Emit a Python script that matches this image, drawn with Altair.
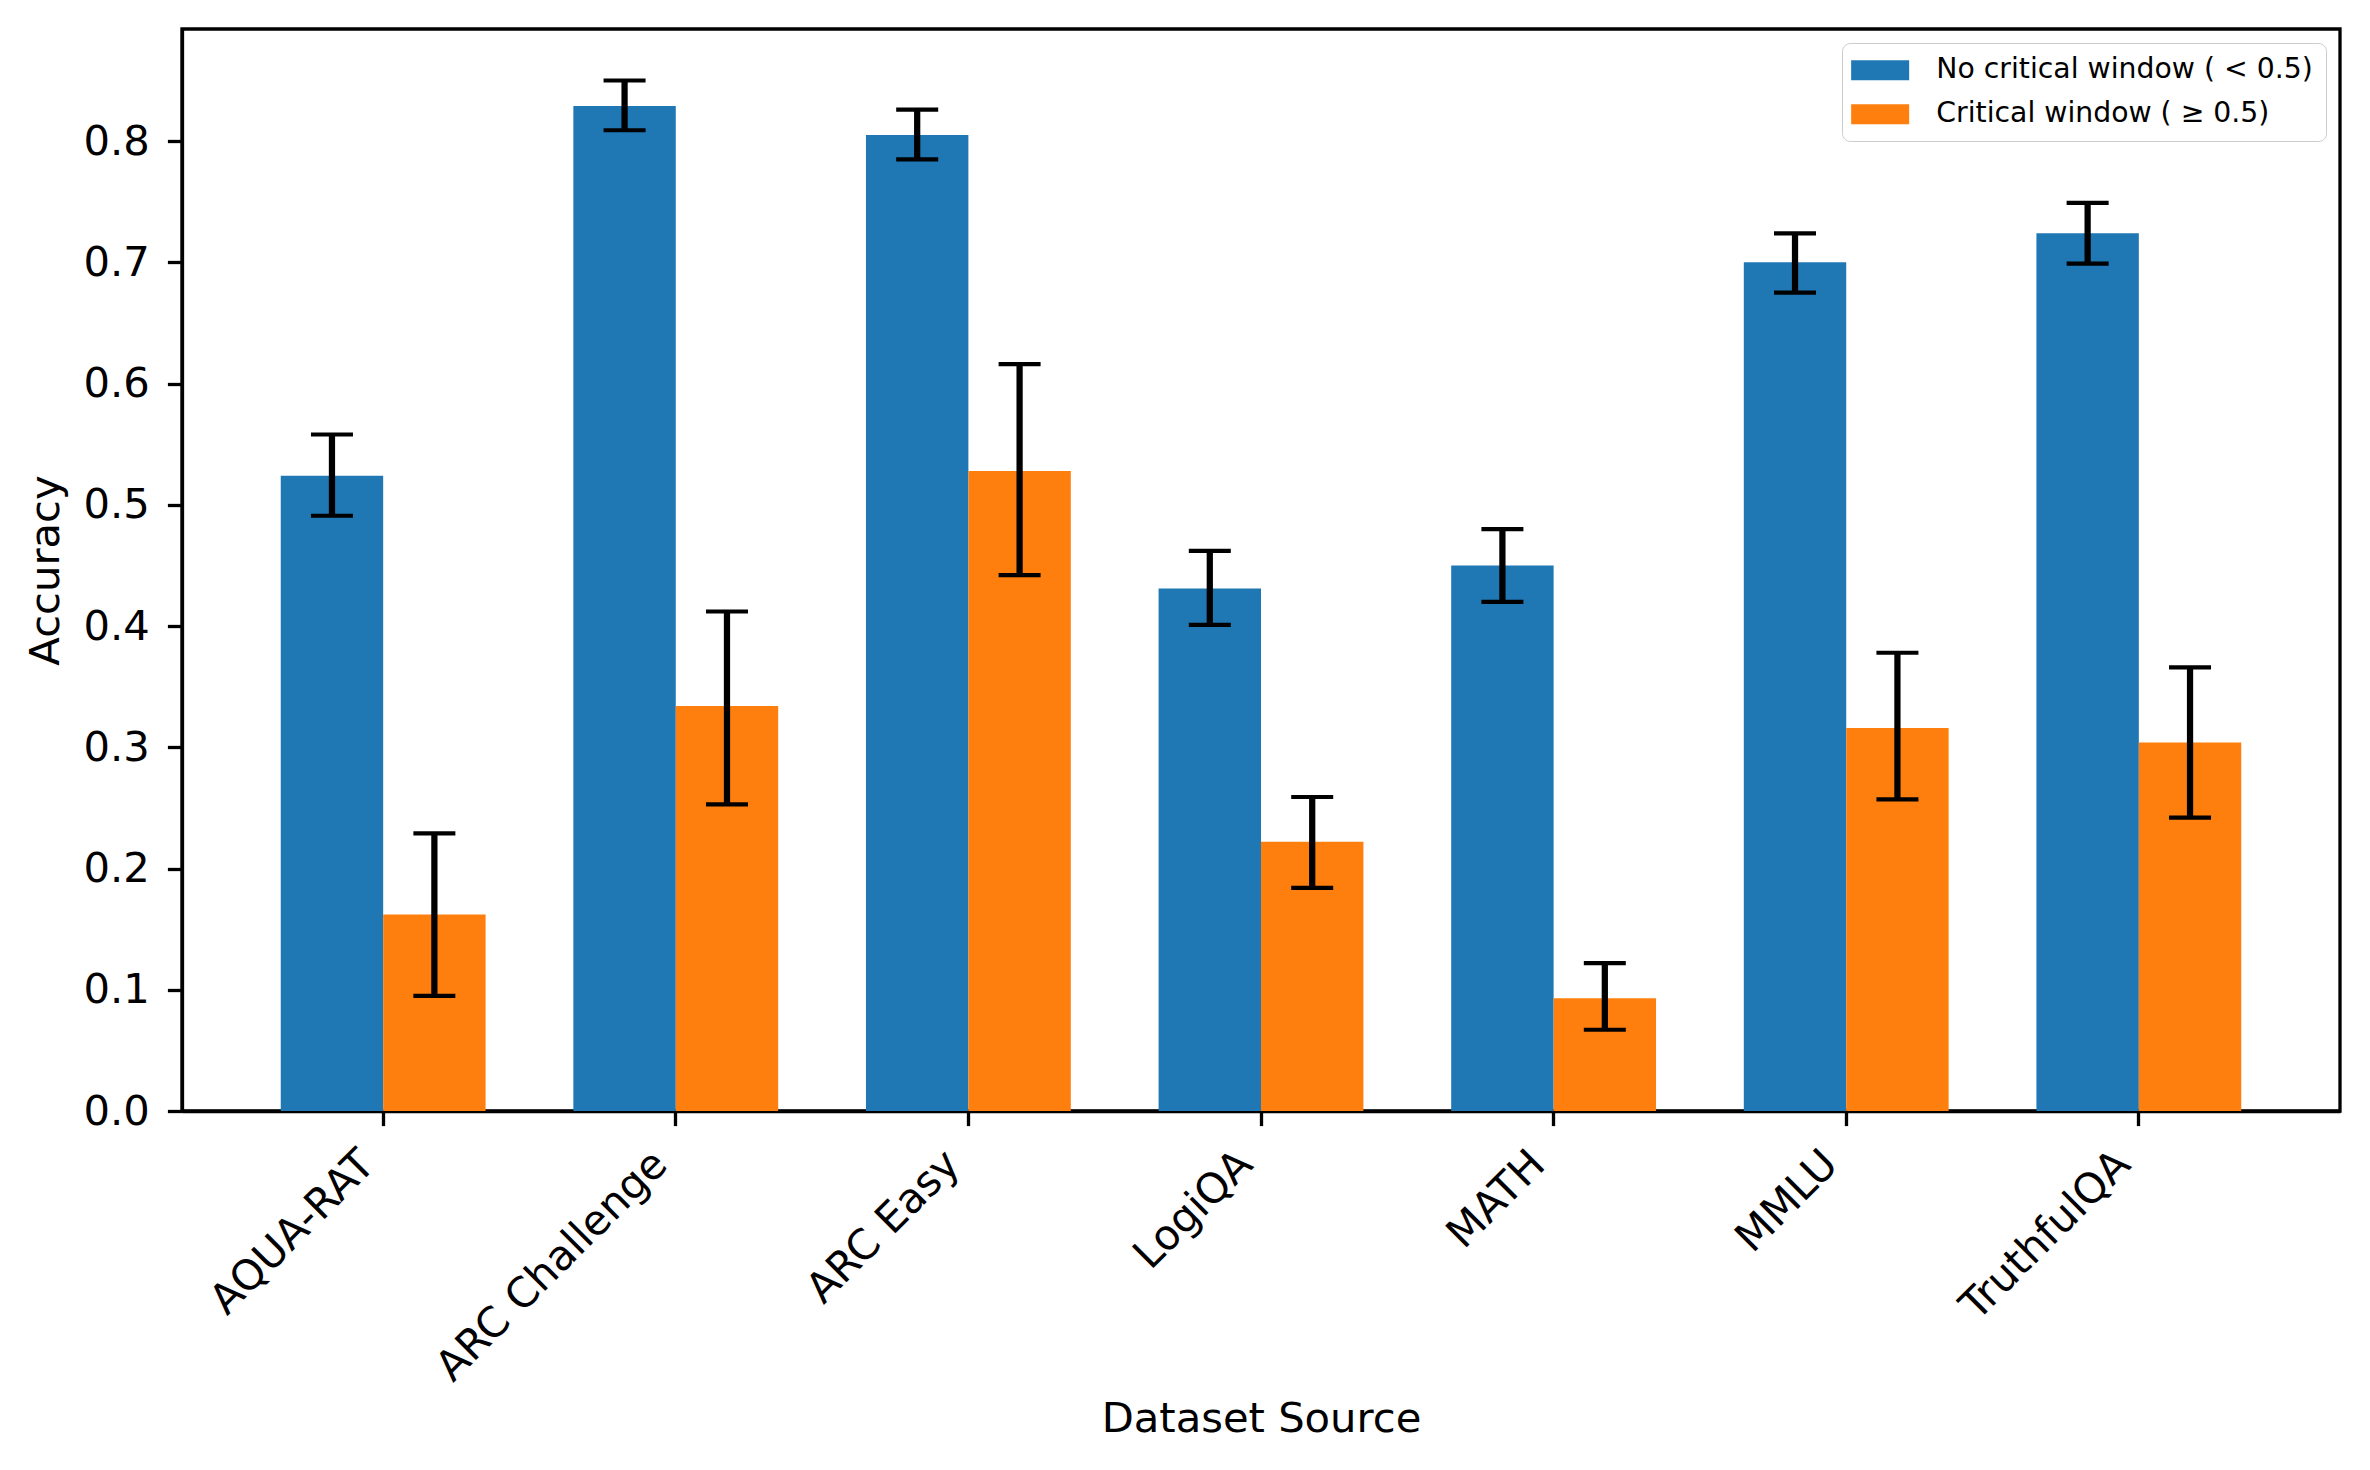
import altair as alt
import pandas as pd

datasets = ["AQUA-RAT", "ARC Challenge", "ARC Easy", "LogiQA", "MATH", "MMLU", "TruthfulQA"]
groups = ["No critical window ( < 0.5)", "Critical window ( ≥ 0.5)"]
colors = ["#1f77b4", "#ff7f0e"]

no_cw_acc = [0.524, 0.829, 0.805, 0.431, 0.450, 0.700, 0.724]
no_cw_lo = [0.491, 0.809, 0.785, 0.401, 0.420, 0.675, 0.699]
no_cw_hi = [0.558, 0.850, 0.826, 0.462, 0.480, 0.724, 0.749]

cw_acc = [0.162, 0.334, 0.528, 0.222, 0.093, 0.316, 0.304]
cw_lo = [0.095, 0.253, 0.442, 0.184, 0.067, 0.257, 0.242]
cw_hi = [0.229, 0.412, 0.616, 0.259, 0.122, 0.378, 0.366]

rows = []
for i, d in enumerate(datasets):
    rows.append({"dataset": d, "group": groups[0], "acc": no_cw_acc[i], "lo": no_cw_lo[i], "hi": no_cw_hi[i]})
    rows.append({"dataset": d, "group": groups[1], "acc": cw_acc[i], "lo": cw_lo[i], "hi": cw_hi[i]})
df = pd.DataFrame(rows)

FONT = "DejaVu Sans"
W, H = 2158, 1082

x_enc = alt.X(
    "dataset:N",
    sort=datasets,
    scale=alt.Scale(paddingInner=0.3, paddingOuter=0.3375),
    axis=alt.Axis(
        title="Dataset Source",
        labelAngle=-45,
        labelAlign="right",
        labelBaseline="bottom",
        labelPadding=47,
        labelFontSize=41.7,
        labelFont=FONT,
        labelColor="black",
        tickSize=14.6,
        tickWidth=3.3,
        tickColor="black",
        domainColor="black",
        domainWidth=3.3,
        titleFont=FONT,
        titleFontSize=41.7,
        titleFontWeight="normal",
        titleColor="black",
        titleBaseline="middle",
        titleAlign="center",
        titleX=W / 2,
        titleY=307,
        labelOverlap=False,
        labelLimit=1000,
    ),
)
xo_enc = alt.XOffset("group:N", sort=groups, scale=alt.Scale(paddingInner=0, paddingOuter=0))

base = alt.Chart(df).encode(x=x_enc, xOffset=xo_enc)

y_scale = alt.Scale(domain=[0, 0.8925], nice=False, zero=True)
y_axis = alt.Axis(
    title="Accuracy",
    values=[0, 0.1, 0.2, 0.3, 0.4, 0.5, 0.6, 0.7, 0.8],
    format=".1f",
    grid=False,
    labelFontSize=41.7,
    labelFont=FONT,
    labelColor="black",
    labelPadding=18,
    tickSize=14.6,
    tickWidth=3.3,
    tickColor="black",
    domainColor="black",
    domainWidth=3.3,
    titleFont=FONT,
    titleFontSize=41.7,
    titleFontWeight="normal",
    titleColor="black",
    titleBaseline="middle",
    titleAlign="center",
    titleAngle=-90,
    titleX=-137,
    titleY=H / 2,
)

bars = base.mark_bar(strokeWidth=0).encode(
    y=alt.Y("acc:Q", scale=y_scale, axis=y_axis),
    color=alt.Color(
        "group:N",
        sort=groups,
        scale=alt.Scale(domain=groups, range=colors),
        legend=alt.Legend(
            title=None,
            orient="none",
            legendX=1660,
            legendY=14,
            padding=13,
            strokeColor="#cccccc",
            fillColor="white",
            cornerRadius=8,
            symbolType="M-1.8,-1H4.0V1H-1.8Z",
            symbolSize=400,
            symbolStrokeWidth=0,
            symbolOpacity=1,
            labelFont=FONT,
            labelFontSize=28.3,
            labelColor="black",
            labelOffset=53,
            rowPadding=15,
            labelLimit=1000,
        ),
    ),
)

rules = base.mark_rule(color="black", strokeWidth=6.25).encode(
    y=alt.Y("lo:Q", scale=y_scale), y2="hi:Q"
)
caps_lo = base.mark_tick(color="black", size=42, thickness=4.2, opacity=1).encode(
    y=alt.Y("lo:Q", scale=y_scale)
)
caps_hi = base.mark_tick(color="black", size=42, thickness=4.2, opacity=1).encode(
    y=alt.Y("hi:Q", scale=y_scale)
)

chart = (
    alt.layer(bars, rules, caps_lo, caps_hi)
    .properties(
        width=W,
        height=H,
        autosize=alt.AutoSizeParams(type="none"),
        padding={"left": 174, "top": 21, "right": 22, "bottom": 351},
        background="white",
    )
    .configure_view(stroke="black", strokeWidth=3.3)
)

chart.save("out.html", embed_options={"renderer": "svg", "actions": False})
